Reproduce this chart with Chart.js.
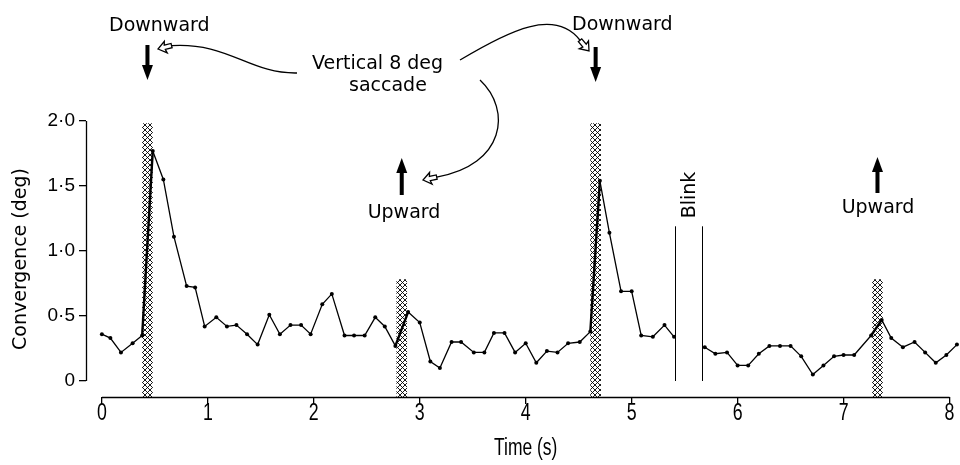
<!DOCTYPE html>
<html><head><meta charset="utf-8">
<script src="https://cdn.jsdelivr.net/npm/chart.js@4.4.1/dist/chart.umd.min.js"></script>
<style>html,body{margin:0;padding:0;background:#fff}</style>
</head><body>
<canvas id="c" width="960" height="465"></canvas>
<script>
// ---- data ----
const timeS = [
  0.00,0.08,0.18,0.29,0.38,0.48,0.58,0.68,0.80,0.88,
  0.97,1.08,1.18,1.27,1.37,1.47,1.58,1.68,1.78,1.88,
  1.97,2.08,2.17,2.29,2.38,2.48,2.58,2.67,2.77,2.89,
  3.00,3.10,3.19,3.30,3.39,3.51,3.61,3.70,3.80,3.90,
  4.00,4.10,4.20,4.30,4.40,4.51,4.61,4.70,4.79,4.90,
  5.00,5.09,5.20,5.31,5.40,5.50,5.60,5.69,5.79,5.90,
  6.00,6.10,6.20,6.30,6.40,6.50,6.60,6.71,6.81,6.91,
  7.00,7.10,7.26,7.36,7.45,7.56,7.67,7.77,7.87,7.97,8.07
];
const convergenceDeg = [
  0.36,0.33,0.22,0.29,0.35,1.77,1.55,1.11,0.73,0.72,
  0.42,0.49,0.42,0.43,0.36,0.28,0.51,0.36,0.43,0.43,
  0.36,0.59,0.67,0.35,0.35,0.35,0.49,0.42,0.27,0.53,
  0.45,0.15,0.10,0.30,0.30,0.22,0.22,0.37,0.37,0.22,
  0.29,0.14,0.23,0.22,0.29,0.30,0.38,1.54,1.14,0.69,
  0.69,0.35,0.34,0.43,0.34,null,null,0.26,0.21,0.22,
  0.12,0.12,0.21,0.27,0.27,0.27,0.19,0.05,0.12,0.19,
  0.20,0.20,0.35,0.47,0.33,0.26,0.30,0.22,0.14,0.20,0.28
];
const saccadeTimes = [0.43, 2.83, 4.66, 7.32];
const saccadeTops  = [1.98, 0.78, 1.98, 0.78];
const saccadeLabels = ['Downward', 'Upward', 'Downward', 'Upward'];
const blinkTimes = [5.41, 5.66];
const blinkTop = 1.19;
const xTickValues = [0,1,2,3,4,5,6,7,8];
const xTickLabels = ['0','1','2','3','4','5','6','7','8'];
const yTickValues = [0,0.5,1,1.5,2];
const yTickLabels = ['0','0·5','1·0','1·5','2·0'];
const noteLines = ['Vertical 8 deg', 'saccade'];
const xTitle = 'Time (s)';
const yTitle = 'Convergence (deg)';

// ---- styling / layout ----
const Y_MIN = -0.123, Y_MAX = 2.0, X_MIN = -0.15, X_MAX = 8.08;
const ANNOT_FONT = "19px 'DejaVu Sans', 'Liberation Sans', sans-serif";
const TICK_FONT = "24px 'Liberation Sans', Arial, sans-serif";
const XTITLE_FONT = "23px 'Liberation Sans', Arial, sans-serif";

const canvas = document.getElementById('c');
const hatch = (() => {
  const p = document.createElement('canvas'); p.width = 5; p.height = 5;
  const g = p.getContext('2d');
  g.fillStyle = '#fff'; g.fillRect(0,0,5,5);
  g.strokeStyle = '#000'; g.lineWidth = 0.9;
  g.beginPath();
  g.moveTo(-1,-1); g.lineTo(6,6);
  g.moveTo(6,-1); g.lineTo(-1,6);
  g.stroke();
  return canvas.getContext('2d').createPattern(p, 'repeat');
})();

const lineData = timeS.map((t, i) => ({x: t, y: convergenceDeg[i]}));
const barData = saccadeTimes.map((t, i) => ({x: t, y: [Y_MIN, saccadeTops[i]]}));

const segWidth = ctx => {
  const a = ctx.p0.parsed, b = ctx.p1.parsed;
  const mid = (a.x + b.x) / 2;
  const near = saccadeTimes.some(t => Math.abs(t - mid) < 0.06);
  return (near && b.y > a.y) ? 2.4 : 1.3;
};

function solidArrow(ctx, x, tailY, tipY) {
  const d = Math.sign(tipY - tailY), headL = 15, headW = 11;
  ctx.fillRect(x - 2, Math.min(tailY, tipY - d*headL), 4, Math.abs(tipY - d*headL - tailY));
  ctx.beginPath();
  ctx.moveTo(x - headW/2, tipY - d*headL);
  ctx.lineTo(x + headW/2, tipY - d*headL);
  ctx.lineTo(x, tipY);
  ctx.closePath(); ctx.fill();
}
function hollowHead(ctx, tipX, tipY, ang) {
  ctx.save();
  ctx.translate(tipX, tipY); ctx.rotate(ang);
  ctx.beginPath();
  ctx.moveTo(0,0); ctx.lineTo(-8,-6); ctx.lineTo(-7,-2.2); ctx.lineTo(-14,-2.2);
  ctx.lineTo(-14,2.2); ctx.lineTo(-7,2.2); ctx.lineTo(-8,6); ctx.closePath();
  ctx.fillStyle = '#fff'; ctx.fill();
  ctx.lineWidth = 1.3; ctx.stroke();
  ctx.restore();
}
function curveArrow(ctx, p0, c1, c2, tip, ang) {
  const bx = tip[0] - 14*Math.cos(ang), by = tip[1] - 14*Math.sin(ang);
  ctx.beginPath();
  ctx.moveTo(p0[0], p0[1]);
  ctx.bezierCurveTo(c1[0], c1[1], c2[0], c2[1], bx, by);
  ctx.lineWidth = 1.3; ctx.stroke();
  hollowHead(ctx, tip[0], tip[1], ang);
}
function condensedText(ctx, text, x, y, sx) {
  ctx.save(); ctx.translate(x, y); ctx.scale(sx, 1);
  ctx.fillText(text, 0, 0); ctx.restore();
}

const annotations = {
  id: 'annotations',
  afterDraw(chart) {
    const {ctx, chartArea, scales: {x, y}} = chart;
    ctx.save();
    ctx.strokeStyle = '#000'; ctx.fillStyle = '#000';
    // range-frame axis lines
    ctx.lineWidth = 1.3;
    ctx.beginPath();
    ctx.moveTo(x.getPixelForValue(xTickValues[0]), chartArea.bottom + 0.5);
    ctx.lineTo(x.getPixelForValue(xTickValues[xTickValues.length-1]), chartArea.bottom + 0.5);
    ctx.moveTo(chartArea.left + 0.5, y.getPixelForValue(yTickValues[0]));
    ctx.lineTo(chartArea.left + 0.5, y.getPixelForValue(yTickValues[yTickValues.length-1]));
    ctx.stroke();
    // x tick labels and title (condensed lettering)
    ctx.textAlign = 'center'; ctx.textBaseline = 'middle';
    ctx.font = TICK_FONT;
    xTickValues.forEach((v, i) => condensedText(ctx, xTickLabels[i], x.getPixelForValue(v), chartArea.bottom + 16, 0.74));
    ctx.font = XTITLE_FONT;
    condensedText(ctx, xTitle, x.getPixelForValue(xTickValues[4]), 449, 0.76);
    // blink markers
    ctx.lineWidth = 1;
    ctx.beginPath();
    blinkTimes.forEach(t => {
      const px = Math.round(x.getPixelForValue(t)) + 0.5;
      ctx.moveTo(px, y.getPixelForValue(0));
      ctx.lineTo(px, y.getPixelForValue(blinkTop));
    });
    ctx.stroke();
    ctx.font = ANNOT_FONT;
    ctx.save();
    ctx.translate(x.getPixelForValue((blinkTimes[0]+blinkTimes[1])/2) + 7, 195);
    ctx.rotate(-Math.PI/2);
    ctx.textAlign = 'center'; ctx.textBaseline = 'alphabetic';
    ctx.fillText('Blink', 0, 0);
    ctx.restore();
    // saccade labels and arrows
    const ax = saccadeTimes.map(t => x.getPixelForValue(t));
    ctx.textBaseline = 'alphabetic';
    ctx.textAlign = 'left';
    ctx.fillText(saccadeLabels[0], 109, 31);
    ctx.fillText(saccadeLabels[2], 572, 30);
    ctx.textAlign = 'center';
    ctx.fillText(saccadeLabels[1], 404, 218);
    ctx.fillText(saccadeLabels[3], 878, 213);
    solidArrow(ctx, ax[0], 45, 80);
    solidArrow(ctx, ax[2], 47, 82);
    solidArrow(ctx, ax[1], 195, 158);
    solidArrow(ctx, ax[3], 193, 157);
    ctx.textAlign = 'left';
    ctx.fillText(noteLines[0], 312, 69);
    ctx.fillText(noteLines[1], 349, 91);
    // curved pointers
    curveArrow(ctx, [297,73], [250,74], [228,42], [158,49], Math.atan2(3,-12));
    curveArrow(ctx, [460,60], [510,30], [555,8], [589,51], Math.atan2(12,10));
    curveArrow(ctx, [480,80], [512,110], [505,165], [423,180], Math.atan2(3,-14));
    ctx.restore();
  }
};

new Chart(canvas, {
  data: {
    datasets: [
      {
        type: 'line', data: lineData, order: 1,
        borderColor: '#000', borderWidth: 1.3, tension: 0, spanGaps: false,
        pointRadius: 2, pointHoverRadius: 2, pointBackgroundColor: '#000', pointBorderWidth: 0,
        segment: {borderWidth: segWidth}, clip: 6
      },
      {
        type: 'bar', data: barData, order: 2,
        backgroundColor: hatch, borderWidth: 0, barThickness: 10, grouped: false
      }
    ]
  },
  options: {
    responsive: false, animation: false, events: [],
    layout: {padding: {top: 121, left: 0, right: 0, bottom: 0}},
    plugins: {legend: {display: false}, tooltip: {enabled: false}},
    scales: {
      x: {
        type: 'linear', min: X_MIN, max: X_MAX, offset: false,
        afterBuildTicks: s => { s.ticks = xTickValues.map(v => ({value: v})); },
        afterFit: s => { s.height = 68; },
        border: {display: false},
        grid: {offset: false, drawOnChartArea: false, drawTicks: true, tickLength: 7, color: '#000', lineWidth: 1.3},
        ticks: {display: false}
      },
      y: {
        type: 'linear', min: Y_MIN, max: Y_MAX,
        afterBuildTicks: s => { s.ticks = yTickValues.map(v => ({value: v})); },
        afterFit: s => { s.width = 86; },
        border: {display: false},
        grid: {drawOnChartArea: false, drawTicks: true, tickLength: 7, color: '#000', lineWidth: 1.3},
        ticks: {
          color: '#000', padding: 4, autoSkip: false,
          font: {family: "'Liberation Sans', Arial, sans-serif", size: 19},
          callback: (v, i) => yTickLabels[i]
        },
        title: {display: true, text: yTitle, color: '#000',
          font: {family: "'DejaVu Sans', sans-serif", size: 19}, padding: {top: 10, bottom: 0}}
      }
    }
  },
  plugins: [annotations]
});
</script>
</body></html>
